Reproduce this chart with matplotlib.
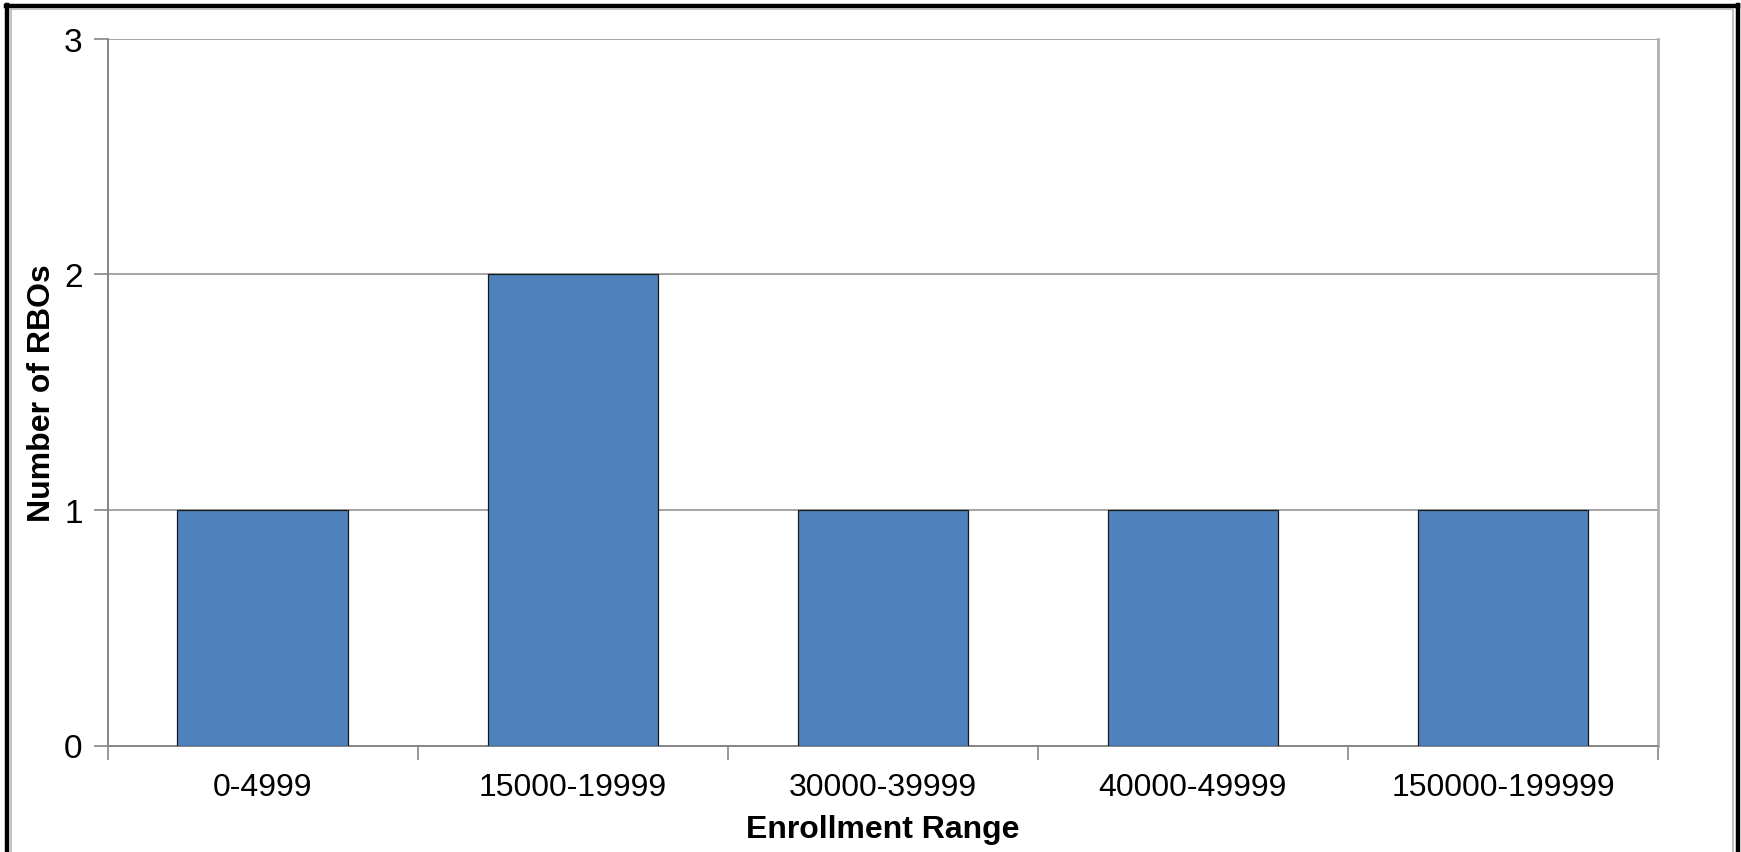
import matplotlib
matplotlib.use("Agg")
import matplotlib.pyplot as plt
import numpy as np
from matplotlib.lines import Line2D

categories = ["0-4999", "15000-19999", "30000-39999", "40000-49999", "150000-199999"]
values = [1, 2, 1, 1, 1]
y_ticks = [0, 1, 2, 3]

plt.rcParams['font.family'] = ['Liberation Sans', 'DejaVu Sans']

W, H = 1741, 853
fig = plt.figure(figsize=(W / 100, H / 100), dpi=100)
fig.patch.set_facecolor('white')

left, right, top, bottom = 107.7, 1658, 39.5, 746.5
ax = fig.add_axes([left / W, 1 - bottom / H, (right - left) / W, (bottom - top) / H])

x = np.arange(len(categories))
ax.bar(x, values, width=0.55, color='#4F81BD', edgecolor='#1a1a1a', linewidth=0.9, zorder=3)

ax.set_xlim(-0.5, len(categories) - 0.5)
ax.set_ylim(0, 3)
ax.set_yticks(y_ticks)
ax.set_yticklabels([str(t) for t in y_ticks], fontsize=24)
ax.set_xticks(x)
ax.set_xticklabels(categories, fontsize=23)
ax.set_xticks(np.arange(-0.5, len(categories), 1.0), minor=True)
ax.tick_params(axis='x', which='major', length=0, pad=19)
ax.tick_params(axis='x', which='minor', length=10, color='#868686', width=1.2, direction='out')
ax.tick_params(axis='y', length=10, color='#868686', width=1.2, direction='out', pad=8)

ax.grid(axis='y', color='#8c8c8c', linewidth=1.1, zorder=0)
for s in ['left', 'bottom', 'right']:
    ax.spines[s].set_color('#868686')
    ax.spines[s].set_linewidth(1.4)
ax.spines['top'].set_visible(False)
ax.spines['right'].set_color('#b0b0b0')
ax.spines['right'].set_linewidth(2)

ax.set_ylabel("Number of RBOs", fontsize=23, fontweight='bold', labelpad=5)
ax.set_xlabel("Enrollment Range", fontsize=23, fontweight='bold', labelpad=9)

# outer chart frame
def fx(px):
    return px / W
def fy(py):
    return 1 - py / H
fig.add_artist(Line2D([fx(7), fx(7)], [fy(6), fy(H + 5)], color='black', linewidth=3.2))
fig.add_artist(Line2D([fx(6), fx(1738)], [fy(6.5), fy(6.5)], color='black', linewidth=3.2))
fig.add_artist(Line2D([fx(1737.5), fx(1737.5)], [fy(6), fy(H + 5)], color='black', linewidth=3.2))
fig.add_artist(Line2D([fx(11), fx(1733)], [fy(10), fy(10)], color='#b8b8b8', linewidth=1.2))
fig.add_artist(Line2D([fx(11), fx(11)], [fy(10), fy(H + 5)], color='#b8b8b8', linewidth=1.2))
fig.add_artist(Line2D([fx(1733), fx(1733)], [fy(10), fy(H + 5)], color='#b8b8b8', linewidth=1.2))

fig.savefig("out.png", dpi=100, facecolor='white')
